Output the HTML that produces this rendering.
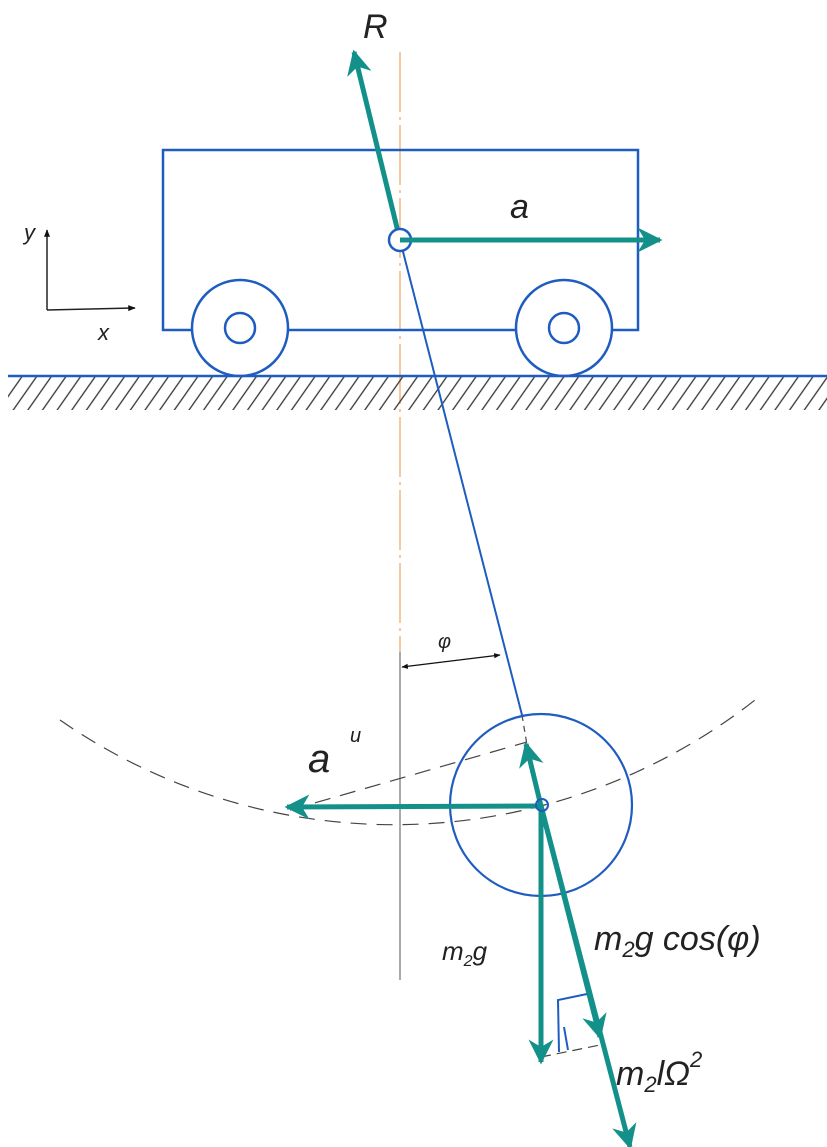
<!DOCTYPE html>
<html><head><meta charset="utf-8"><style>
html,body{margin:0;padding:0;background:#fff;}
svg{display:block;}
text{font-family:"Liberation Sans",sans-serif;font-style:italic;fill:#222;}
</style></head><body>
<svg width="827" height="1147" viewBox="0 0 827 1147" xmlns="http://www.w3.org/2000/svg">
<defs>
<marker id="ah" viewBox="0 0 10 10" refX="9" refY="5" markerWidth="5" markerHeight="5" orient="auto-start-reverse" markerUnits="strokeWidth">
<path d="M0,0 L10,5 L0,10 L3,5 Z" fill="#14908a"/></marker>
<marker id="bk" viewBox="0 0 10 10" refX="9" refY="5" markerWidth="9" markerHeight="5" orient="auto-start-reverse" markerUnits="strokeWidth">
<path d="M0,1 L10,5 L0,9 Z" fill="#111"/></marker>
<pattern id="hatch" width="12" height="12" patternUnits="userSpaceOnUse" patternTransform="rotate(35)">
<line x1="6" y1="0" x2="6" y2="12" stroke="#333" stroke-width="1.3"/></pattern>
</defs>
<!-- centerline -->
<line x1="400" y1="52" x2="400" y2="652" stroke="#f5c8a0" stroke-width="2" stroke-dasharray="60,5,3,5"/>
<line x1="400" y1="652" x2="400" y2="980" stroke="#aaa" stroke-width="2"/>
<!-- ground -->
<rect x="8" y="377" width="819" height="33" fill="url(#hatch)"/>
<!-- cart -->
<rect x="163" y="150" width="475" height="180" fill="none" stroke="#1e5cc0" stroke-width="2.5"/>
<circle cx="240" cy="328" r="48" fill="#fff" stroke="#1e5cc0" stroke-width="2.5"/>
<circle cx="240" cy="328" r="15" fill="none" stroke="#1e5cc0" stroke-width="2.5"/>
<circle cx="564" cy="328" r="48" fill="#fff" stroke="#1e5cc0" stroke-width="2.5"/>
<circle cx="564" cy="328" r="15" fill="none" stroke="#1e5cc0" stroke-width="2.5"/>
<line x1="8" y1="376" x2="827" y2="376" stroke="#1e5cc0" stroke-width="2.5"/>
<!-- axes -->
<line x1="47" y1="310" x2="47" y2="230" stroke="#222" stroke-width="1.5" marker-end="url(#bk)"/>
<line x1="47" y1="310" x2="135" y2="308" stroke="#222" stroke-width="1.5" marker-end="url(#bk)"/>
<text x="24" y="240" font-size="22">y</text>
<text x="98" y="340" font-size="22">x</text>
<!-- pendulum rod -->
<line x1="400" y1="240" x2="522" y2="715" stroke="#1e5cc0" stroke-width="2"/>
<!-- dashed arc -->
<path d="M60,720 A585,585 0 0 0 755,700" fill="none" stroke="#444" stroke-width="1.2" stroke-dasharray="16,10"/>
<line x1="290" y1="810" x2="527" y2="742" stroke="#444" stroke-width="1.2" stroke-dasharray="16,10"/>
<line x1="522" y1="715" x2="527" y2="745" stroke="#444" stroke-width="1.2" stroke-dasharray="6,5"/>
<line x1="541" y1="1057" x2="600" y2="1045" stroke="#444" stroke-width="1.2" stroke-dasharray="10,6"/>
<!-- bob -->
<circle cx="541" cy="805" r="91" fill="none" stroke="#1e5cc0" stroke-width="2.2"/>
<!-- phi dimension -->
<line x1="402" y1="667" x2="500" y2="655" stroke="#111" stroke-width="1.3" marker-start="url(#bk)" marker-end="url(#bk)"/>
<text x="438" y="648" font-size="20">φ</text>
<!-- vectors -->
<g stroke="#14908a" stroke-width="5" fill="none">
<line x1="400" y1="240" x2="354" y2="52" marker-end="url(#ah)"/>
<line x1="400" y1="240" x2="660" y2="240" marker-end="url(#ah)"/>
<line x1="541" y1="806" x2="287" y2="807" marker-end="url(#ah)"/>
<line x1="541" y1="806" x2="526" y2="744" marker-end="url(#ah)"/>
<line x1="541" y1="806" x2="541" y2="1062" marker-end="url(#ah)"/>
<line x1="541" y1="806" x2="600" y2="1037" marker-end="url(#ah)"/>
<line x1="541" y1="806" x2="630" y2="1147" marker-end="url(#ah)"/>
</g>
<circle cx="400" cy="240" r="11" fill="#fff" stroke="#1e5cc0" stroke-width="2.5"/>
<line x1="400" y1="240" x2="650" y2="240" stroke="#14908a" stroke-width="5"/>
<circle cx="542" cy="805" r="6" fill="none" stroke="#1e5cc0" stroke-width="2"/>
<!-- right-angle marker -->
<polyline points="559,1052 558,1000 587,994" fill="none" stroke="#1e5cc0" stroke-width="2"/>
<line x1="568" y1="1050" x2="564" y2="1027" stroke="#1e5cc0" stroke-width="2"/>
<!-- labels -->
<text x="363" y="38" font-size="34">R</text>
<text x="510" y="218" font-size="34">a</text>
<text x="308" y="772" font-size="40">a</text>
<text x="350" y="742" font-size="20">u</text>
<text x="442" y="960" font-size="26">m<tspan font-size="16" dy="6">2</tspan><tspan dy="-6">g</tspan></text>
<text x="594" y="950" font-size="34">m<tspan font-size="22" dy="7">2</tspan><tspan dy="-7">g cos(φ)</tspan></text>
<text x="616" y="1085" font-size="34">m<tspan font-size="22" dy="7">2</tspan><tspan dy="-7">lΩ</tspan><tspan font-size="22" dy="-18">2</tspan></text>
</svg>
</body></html>
